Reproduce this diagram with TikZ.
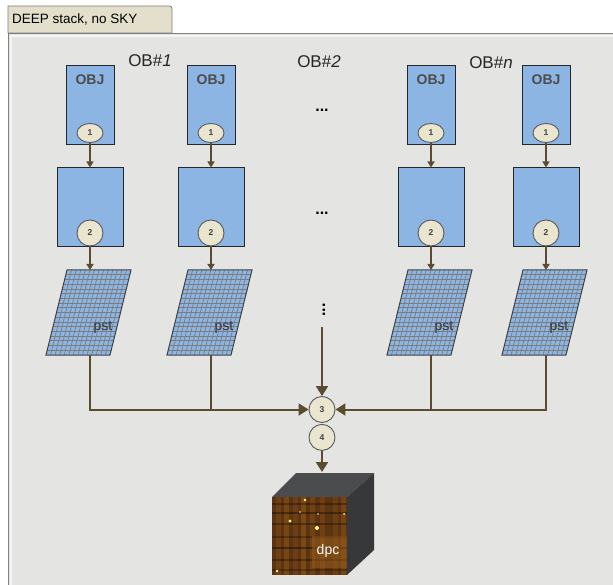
\documentclass[tikz,border=0pt]{standalone}
\usepackage{fontspec}
\setmainfont{Liberation Sans}
\usetikzlibrary{arrows.meta,shapes.geometric,positioning}

\definecolor{panelgray}{HTML}{E4E5E2}
\definecolor{tabbeige}{HTML}{E3DFCB}
\definecolor{boxblue}{HTML}{8DB5E4}
\definecolor{numcream}{HTML}{E9E5CE}
\definecolor{flowbrown}{HTML}{5B4C31}
\definecolor{gridgray}{HTML}{7C7C7C}
\definecolor{cubefront}{HTML}{5C3411}
\definecolor{cubestreak}{HTML}{9A5E1C}
\definecolor{cubetopc}{HTML}{4B4C4E}
\definecolor{cubeside}{HTML}{37383A}

\tikzset{
  objbox/.style={draw=black!85, fill=boxblue, line width=1pt, minimum width=48pt, minimum height=79pt, inner sep=0pt},
  redbox/.style={objbox, minimum width=66pt},
  objtxt/.style={font=\fontsize{14}{14}\selectfont\bfseries, text=black!70, inner sep=0pt},
  stepnum/.style={circle, draw=black!65, fill=numcream, line width=0.9pt, minimum size=26pt, inner sep=0pt, font=\fontsize{8.5}{8.5}\selectfont\bfseries, text=black!75},
  stepflat/.style={stepnum, ellipse, minimum width=26pt, minimum height=19pt},
  obtitle/.style={font=\fontsize{17}{17}\selectfont, text=black!85, inner sep=0pt},
  dots/.style={font=\fontsize{16}{16}\selectfont\bfseries, inner sep=0pt},
  psttxt/.style={font=\fontsize{14}{14}\selectfont, text=black!80, inner sep=0pt},
  gridline/.style={draw=gridgray, line width=0.7pt},
  flow/.style={draw=flowbrown, line width=2pt, -{Triangle[width=7pt,length=6pt]}},
  merge/.style={draw=flowbrown, line width=2pt, -{Triangle[width=12pt,length=10pt]}},
  link/.style={draw=flowbrown, line width=2pt},
}

\begin{document}
\begin{tikzpicture}[x=1pt, y=-1pt]

\useasboundingbox (0,0) rectangle (613,585);
\fill[white] (0,0) rectangle (613,585);

% tab and panel
\fill[panelgray] (8,33) rectangle (613,585);
\draw[white!60!panelgray, line width=2pt] (11,585) |- (613,36);
\draw[gray, line width=0.8pt] (8,585) |- (613,33);
\filldraw[draw=gray, fill=tabbeige, line width=0.8pt] (8,33) -- (8,6) -- (166,6) .. controls (172,6) .. (172,12) -- (172,33) -- cycle;
\node[anchor=base west, font=\fontsize{13.5}{13.5}\selectfont, inner sep=0pt] (tablbl) at (12,23.5) {DEEP stack, no SKY};

% column titles and dots
\node[obtitle] (ob1) at (150,61) {OB\#\textit{1}};
\node[obtitle] (ob2) at (319,62) {OB\#\textit{2}};
\node[obtitle] (obn) at (491,63) {OB\#\textit{n}};
\node[dots] (dotsa) at (322,110) {...};
\node[dots] (dotsb) at (322,213) {...};
\node[dots, rotate=90] (dotsc) at (324,310) {...};

% one column per exposure
\foreach \c [count=\i] in {90,211,431,546} {
  \node[objbox] (obj\i) at (\c,105.5) {};
  \node[objtxt, below=9pt of obj\i.north] (objlbl\i) {OBJ};
  \node[stepflat] (one\i) at (\c,133) {1};
  \node[redbox] (red\i) at (\c,207.5) {};
  \node[stepnum] (two\i) at (\c,233) {2};
  \coordinate (psttop\i) at (\c,270);
  \coordinate (pstbot\i) at (\c,355);
  \begin{scope}
    \clip ({\c-44},355) -- ({\c-23},270) -- ({\c+41},270) -- ({\c+20},355) -- cycle;
    \fill[boxblue] ({\c-50},265) rectangle ({\c+50},360);
    \foreach \k in {1,...,17}
      \draw[gridline] ({\c-50},{270+\k*4.72}) -- ({\c+50},{270+\k*4.72});
    \foreach \k in {1,...,13}
      \draw[gridline] ({\c-44+\k*4.57},355) -- ({\c-23+\k*4.57},270);
  \end{scope}
  \draw[black!75, line width=1pt] ({\c-44},355) -- ({\c-23},270) -- ({\c+41},270) -- ({\c+20},355) -- cycle;
  \node[psttxt] (pst\i) at ({\c+13},327) {pst};
  \draw[flow] (one\i) -- (red\i);
  \draw[flow] (two\i) -- (psttop\i);
}

% merge
\node[stepnum] (three) at (322,409.5) {3};
\node[stepnum, below=1pt of three] (four) {4};
\coordinate (dotsend) at (322,327);
\coordinate (cubetop) at (322,472);

\draw[merge] (pstbot1) |- (three.west);
\draw[merge] (pstbot4) |- (three.east);
\draw[link] (pstbot2) -- (pstbot2 |- three.west);
\draw[link] (pstbot3) -- (pstbot3 |- three.east);
\draw[merge] (dotsend) -- (three.north);
\draw[merge] (four) -- (cubetop);

% cube
\fill[cubetopc] (272,497) -- (296,473) -- (374,473) -- (347,497) -- cycle;
\fill[cubeside] (347,497) -- (374,473) -- (374,550) -- (347,575) -- cycle;
\begin{scope}
  \clip (272,497) rectangle (347,575);
  \fill[cubefront] (272,497) rectangle (347,575);
  \foreach \x/\o in {276/0.3,284/0.45,293/0.25,301/0.5,310/0.35,320/0.3,333/0.25,341/0.4}
    \fill[cubestreak, opacity=\o] (\x,497) rectangle ({\x+5},575);
  \foreach \y/\o in {503/0.3,512/0.35,523/0.3,536/0.25,547/0.4,559/0.3,569/0.25}
    \fill[black, opacity=\o] (272,\y) rectangle (347,{\y+2});
  \fill[cubestreak, opacity=0.5] (312,536) rectangle (347,568);
  \foreach \x/\y/\r in {305/500/1.4,290/521/1.6,317/528/2,344/514/1,277/571/1.3,318/514/0.9,300/512/0.8}
    \fill[yellow!50!white] (\x,\y) circle (\r);
\end{scope}
\node[font=\fontsize{14}{14}\selectfont, text=white, inner sep=0pt] (dpc) at (328,551) {dpc};

\end{tikzpicture}
\end{document}
